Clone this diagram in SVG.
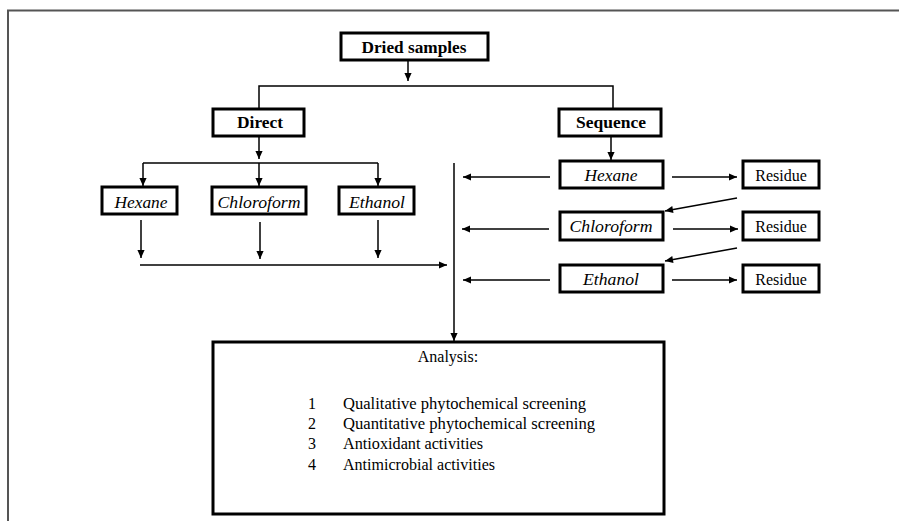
<svg xmlns="http://www.w3.org/2000/svg" width="899" height="521" viewBox="0 0 899 521">
<style>
.box{fill:#fff;stroke:#000;stroke-width:3}
.ln{fill:none;stroke:#000;stroke-width:1.5}
.ar{fill:none;stroke:#000;stroke-width:1.5;marker-end:url(#ah)}
.b{font-family:"Liberation Serif","Times New Roman",serif;font-weight:700;font-size:17px;text-anchor:middle;fill:#000}
.i{font-family:"Liberation Serif","Times New Roman",serif;font-style:italic;font-size:17px;text-anchor:middle;fill:#000}
.r{font-family:"Liberation Serif","Times New Roman",serif;font-size:16px;fill:#000}
.c{text-anchor:middle}
</style>
<defs>
<marker id="ah" viewBox="0 0 10 10" refX="10" refY="5" markerWidth="9" markerHeight="8" markerUnits="userSpaceOnUse" orient="auto">
<path d="M0,0.5 L10,5 L0,9.5 z" fill="#000"/>
</marker>
</defs>
<rect width="899" height="521" fill="#fff"/>
<g id="frame"><path d="M8,521 V10.5 H899" fill="none" stroke="#555" stroke-width="2"/></g>
<g id="connectors">
<line class="ar" x1="408" y1="60" x2="408" y2="81"/>
<path class="ln" d="M259,109 V86 H613 V109"/>
<line class="ar" x1="259" y1="136" x2="259" y2="159"/>
<path class="ln" d="M143,163 H378"/>
<line class="ar" x1="143" y1="163" x2="143" y2="186"/>
<line class="ar" x1="259" y1="163" x2="259" y2="186"/>
<line class="ar" x1="378" y1="163" x2="378" y2="186"/>
<line class="ar" x1="611" y1="136" x2="611" y2="160"/>
<line class="ar" x1="141" y1="220" x2="141" y2="258"/>
<line class="ar" x1="260" y1="222" x2="260" y2="259"/>
<line class="ar" x1="378" y1="220" x2="378" y2="258"/>
<line class="ar" x1="140" y1="265" x2="447" y2="265"/>
<line class="ar" x1="454" y1="163" x2="454" y2="341"/>
<line class="ar" x1="550" y1="177" x2="463" y2="177"/>
<line class="ar" x1="549" y1="229" x2="462" y2="229"/>
<line class="ar" x1="550" y1="280" x2="463" y2="280"/>
<line class="ar" x1="672" y1="177" x2="737" y2="177"/>
<line class="ar" x1="673" y1="229" x2="738" y2="229"/>
<line class="ar" x1="672" y1="280" x2="737" y2="280"/>
<line class="ar" x1="737" y1="198" x2="665" y2="211"/>
<line class="ar" x1="737" y1="248" x2="665" y2="261"/>
</g>
<g id="dried"><rect class="box" x="341" y="33" width="147" height="27"/><text class="b" x="414" y="53" textLength="105" lengthAdjust="spacingAndGlyphs">Dried samples</text></g>
<g id="direct"><rect class="box" x="213" y="109" width="91" height="27"/><text class="b" x="260" y="128" textLength="46" lengthAdjust="spacingAndGlyphs">Direct</text></g>
<g id="sequence"><rect class="box" x="559" y="109" width="102" height="27"/><text class="b" x="611" y="128" textLength="70" lengthAdjust="spacingAndGlyphs">Sequence</text></g>
<g id="d-hexane"><rect class="box" x="102" y="187" width="75" height="27"/><text class="i" x="141" y="208" textLength="53" lengthAdjust="spacingAndGlyphs">Hexane</text></g>
<g id="d-chloroform"><rect class="box" x="212" y="187" width="94" height="27"/><text class="i" x="259" y="208" textLength="83" lengthAdjust="spacingAndGlyphs">Chloroform</text></g>
<g id="d-ethanol"><rect class="box" x="339" y="187" width="75" height="27"/><text class="i" x="377" y="208" textLength="56" lengthAdjust="spacingAndGlyphs">Ethanol</text></g>
<g id="s-hexane"><rect class="box" x="560" y="161" width="103" height="27"/><text class="i" x="611" y="181" textLength="53" lengthAdjust="spacingAndGlyphs">Hexane</text></g>
<g id="s-chloroform"><rect class="box" x="560" y="212" width="103" height="28"/><text class="i" x="611" y="232" textLength="83" lengthAdjust="spacingAndGlyphs">Chloroform</text></g>
<g id="s-ethanol"><rect class="box" x="560" y="265" width="103" height="27"/><text class="i" x="611" y="285" textLength="56" lengthAdjust="spacingAndGlyphs">Ethanol</text></g>
<g id="residue1"><rect class="box" x="743" y="161" width="76" height="27"/><text class="r c" x="781" y="181">Residue</text></g>
<g id="residue2"><rect class="box" x="743" y="212" width="76" height="28"/><text class="r c" x="781" y="232">Residue</text></g>
<g id="residue3"><rect class="box" x="743" y="265" width="76" height="27"/><text class="r c" x="781" y="285">Residue</text></g>
<g id="analysis">
<rect class="box" x="213" y="342" width="451" height="172"/>
<text class="r c" x="448" y="362">Analysis:</text>
<text class="r c" x="312" y="409">1</text><text class="r" x="343" y="409" textLength="243" lengthAdjust="spacingAndGlyphs">Qualitative phytochemical screening</text>
<text class="r c" x="312" y="429">2</text><text class="r" x="343" y="429" textLength="252" lengthAdjust="spacingAndGlyphs">Quantitative phytochemical screening</text>
<text class="r c" x="312" y="449">3</text><text class="r" x="343" y="449" textLength="140" lengthAdjust="spacingAndGlyphs">Antioxidant activities</text>
<text class="r c" x="312" y="470">4</text><text class="r" x="343" y="470" textLength="152" lengthAdjust="spacingAndGlyphs">Antimicrobial activities</text>
</g>
</svg>
